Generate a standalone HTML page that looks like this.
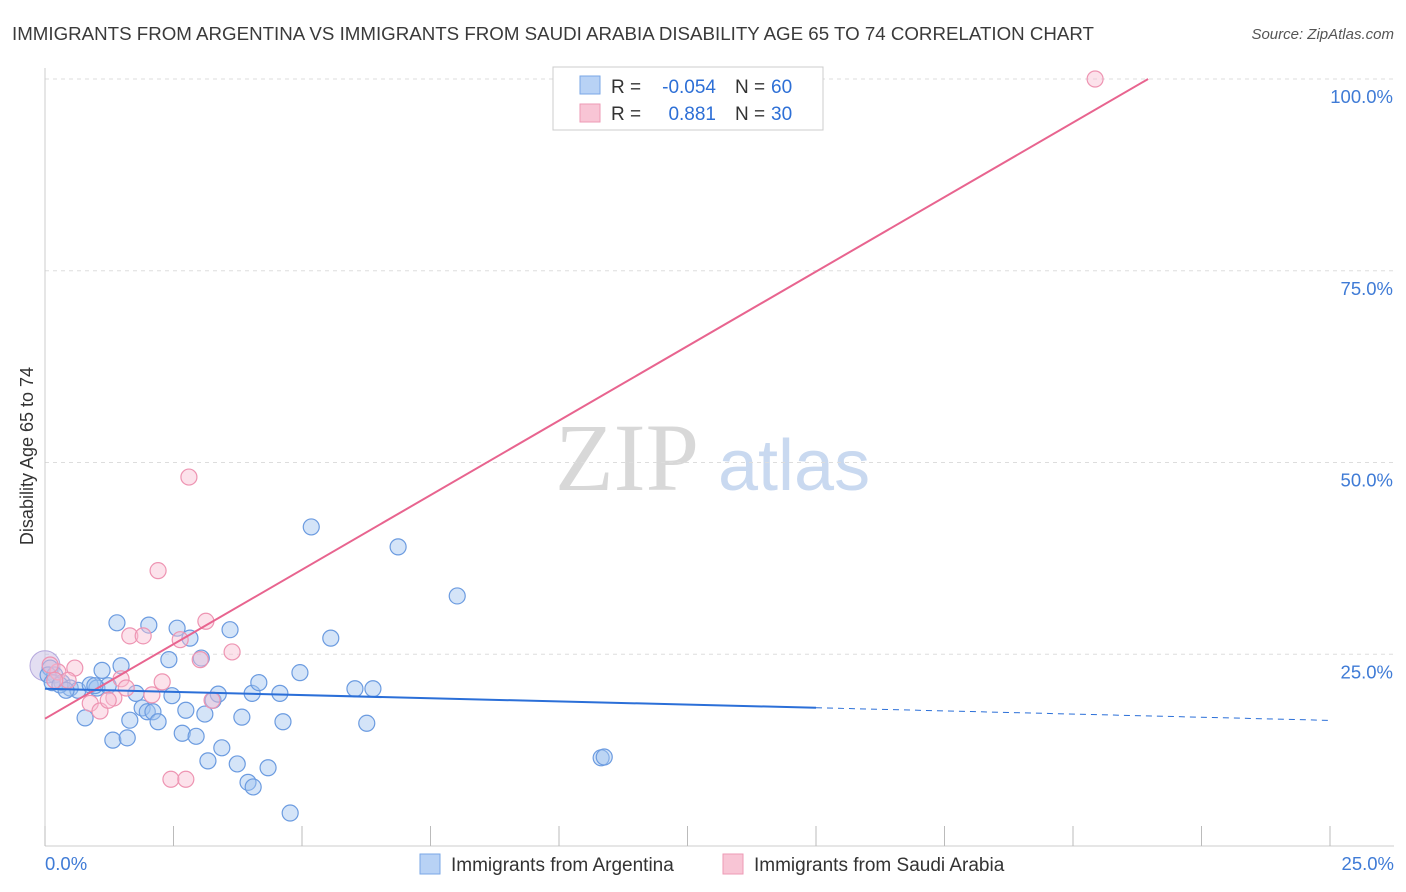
<!DOCTYPE html>
<html><head><meta charset="utf-8"><style>
body{margin:0;background:#fff;font-family:"Liberation Sans",sans-serif;}
svg{display:block}
</style></head><body>
<svg id="c" width="1406" height="892">
<text x="12" y="40" font-size="18.5" fill="#3a3a3a" textLength="1082" lengthAdjust="spacingAndGlyphs">IMMIGRANTS FROM ARGENTINA VS IMMIGRANTS FROM SAUDI ARABIA DISABILITY AGE 65 TO 74 CORRELATION CHART</text>
<text x="1394" y="39" font-size="15" fill="#555" font-style="italic" text-anchor="end">Source: ZipAtlas.com</text>
<g>
<text x="555" y="490" font-size="96" font-family="Liberation Serif,serif" fill="#d8d8d8">ZIP</text>
<text x="718" y="490" font-size="72" fill="#c9d9f0">atlas</text>
</g>
<text transform="translate(33,456) rotate(-90)" font-size="18" fill="#333" text-anchor="middle">Disability Age 65 to 74</text>
<g id="grid"></g><g id="marks"></g>
<g>
<rect x="553" y="67" width="270" height="63" fill="#fff" stroke="#ccc"/>
<rect x="580" y="76" width="20" height="18" fill="#b8d2f5" stroke="#7aa7e6"/>
<rect x="580" y="104" width="20" height="18" fill="#f8c5d5" stroke="#ee9ab5"/>
<text x="611" y="93" font-size="19" fill="#333">R =</text>
<text x="716" y="93" font-size="19" fill="#2d6fd6" text-anchor="end">-0.054</text>
<text x="735" y="93" font-size="19" fill="#333">N =</text>
<text x="771" y="93" font-size="19" fill="#2d6fd6">60</text>
<text x="611" y="120" font-size="19" fill="#333">R =</text>
<text x="716" y="120" font-size="19" fill="#2d6fd6" text-anchor="end">0.881</text>
<text x="735" y="120" font-size="19" fill="#333">N =</text>
<text x="771" y="120" font-size="19" fill="#2d6fd6">30</text>
</g>
<g>
<rect x="420" y="854" width="20" height="20" fill="#b8d2f5" stroke="#7aa7e6"/>
<text x="451" y="871" font-size="19" fill="#333">Immigrants from Argentina</text>
<rect x="723" y="854" width="20" height="20" fill="#f8c5d5" stroke="#ee9ab5"/>
<text x="754" y="871" font-size="19" fill="#333">Immigrants from Saudi Arabia</text>
</g>
</svg>
<script>
const yTicks=[25,50,75,100];
const yTickLabels=["25.0%","50.0%","75.0%","100.0%"];
const xTicks=[0,2.5,5,7.5,10,12.5,15,17.5,20,22.5,25];
const xEndLabels=["0.0%","25.0%"];
const argX=[0.10,0.19,0.33,0.49,0.64,0.78,0.88,1.01,1.11,1.23,1.32,1.40,1.48,1.60,1.65,1.77,1.89,1.99,2.02,2.10,2.20,2.41,2.47,2.57,2.67,2.74,2.82,2.94,3.04,3.11,3.17,3.27,3.37,3.44,3.60,3.74,3.83,3.95,4.05,4.03,4.16,4.34,4.57,4.63,4.77,4.96,5.18,5.56,6.03,6.26,6.38,6.87,8.02,10.82,10.88,0.06,0.14,0.29,0.41,0.97];
const argY=[23.2,22.3,21.3,20.6,20.3,16.7,21.0,20.6,22.9,20.9,13.8,29.1,23.5,14.1,16.4,19.9,18.0,17.5,28.8,17.5,16.2,24.3,19.6,28.4,14.7,17.7,27.1,14.3,24.5,17.2,11.1,19.0,19.8,12.8,28.2,10.7,16.8,8.3,7.7,19.9,21.3,10.2,19.9,16.2,4.3,22.6,41.6,27.1,20.5,16.0,20.5,39.0,32.6,11.5,11.6,22.3,21.3,21.0,20.3,20.9];
const sauX=[20.43,2.80,2.20,3.13,3.64,3.02,1.65,1.91,2.63,2.28,1.48,0.58,0.25,0.45,0.88,1.07,1.34,1.23,1.58,2.08,3.25,2.45,2.74,0.10,0.19];
const sauY=[100,48.1,35.9,29.3,25.3,24.3,27.4,27.4,26.9,21.4,21.8,23.2,22.7,21.6,18.6,17.6,19.3,19.0,20.6,19.7,19.0,8.7,8.7,23.6,21.6];
const argLine=[20.5,-0.165];
const sauLine=[16.6,3.886];
const NS="http://www.w3.org/2000/svg";
const sx=v=>45+v/25*1285, sy=v=>846-v/100*767;
function mk(t,p,a){const e=document.createElementNS(NS,t);for(const k in a)e.setAttribute(k,a[k]);p.appendChild(e);return e;}
const g=document.getElementById('grid'),m=document.getElementById('marks');
yTicks.forEach((t,i)=>{
 const l=mk('line',g,{x1:45,x2:1394,y1:sy(t),y2:sy(t),stroke:'#ddd','stroke-dasharray':'4,4'});
 
 
 const tx=mk('text',g,{x:1393,y:sy(t)+24,'font-size':18.5,fill:'#3f7bd6','text-anchor':'end'});
 tx.textContent=yTickLabels[i];
 
 
});
const ax=mk('line',g,{x1:45,x2:1394,y1:846,y2:846,stroke:'#ccc'});


const ay=mk('line',g,{x1:45,x2:45,y1:68,y2:846,stroke:'#ccc'});


xTicks.forEach(t=>{const l=mk('line',g,{x1:sx(t),x2:sx(t),y1:826,y2:846,stroke:'#bbb'});
 
 });
const xl0=mk('text',g,{x:45,y:870,'font-size':18.5,fill:'#3f7bd6'});xl0.textContent=xEndLabels[0];


const xl1=mk('text',g,{x:1394,y:870,'font-size':18.5,fill:'#3f7bd6','text-anchor':'end'});xl1.textContent=xEndLabels[1];


const big=mk('circle',m,{cx:sx(0),cy:sy(23.5),r:15,fill:'rgba(200,190,230,0.5)',stroke:'#b5a8dd'});


argX.forEach((x,i)=>{const c=mk('circle',m,{cx:sx(x),cy:sy(argY[i]),r:8,fill:'rgba(160,195,240,0.45)',stroke:'#6b9be0','stroke-width':1.2});
 
 });
sauX.forEach((x,i)=>{const c=mk('circle',m,{cx:sx(x),cy:sy(sauY[i]),r:8,fill:'rgba(248,190,210,0.45)',stroke:'#ee94b2','stroke-width':1.2});
 
 });
const xEndS=(100-sauLine[0])/sauLine[1];
const pl=mk('line',m,{x1:sx(0),y1:sy(sauLine[0]),x2:sx(xEndS),y2:sy(100),stroke:'#e8648f','stroke-width':2});


const bl=mk('line',m,{x1:sx(0),y1:sy(argLine[0]),x2:sx(15),y2:sy(argLine[0]+argLine[1]*15),stroke:'#2b6fd8','stroke-width':2});


const bd=mk('line',m,{x1:sx(15),y1:sy(argLine[0]+argLine[1]*15),x2:sx(25),y2:sy(argLine[0]+argLine[1]*25),stroke:'#2b6fd8','stroke-width':1,'stroke-dasharray':'6,5'});


</script>
</body></html>
